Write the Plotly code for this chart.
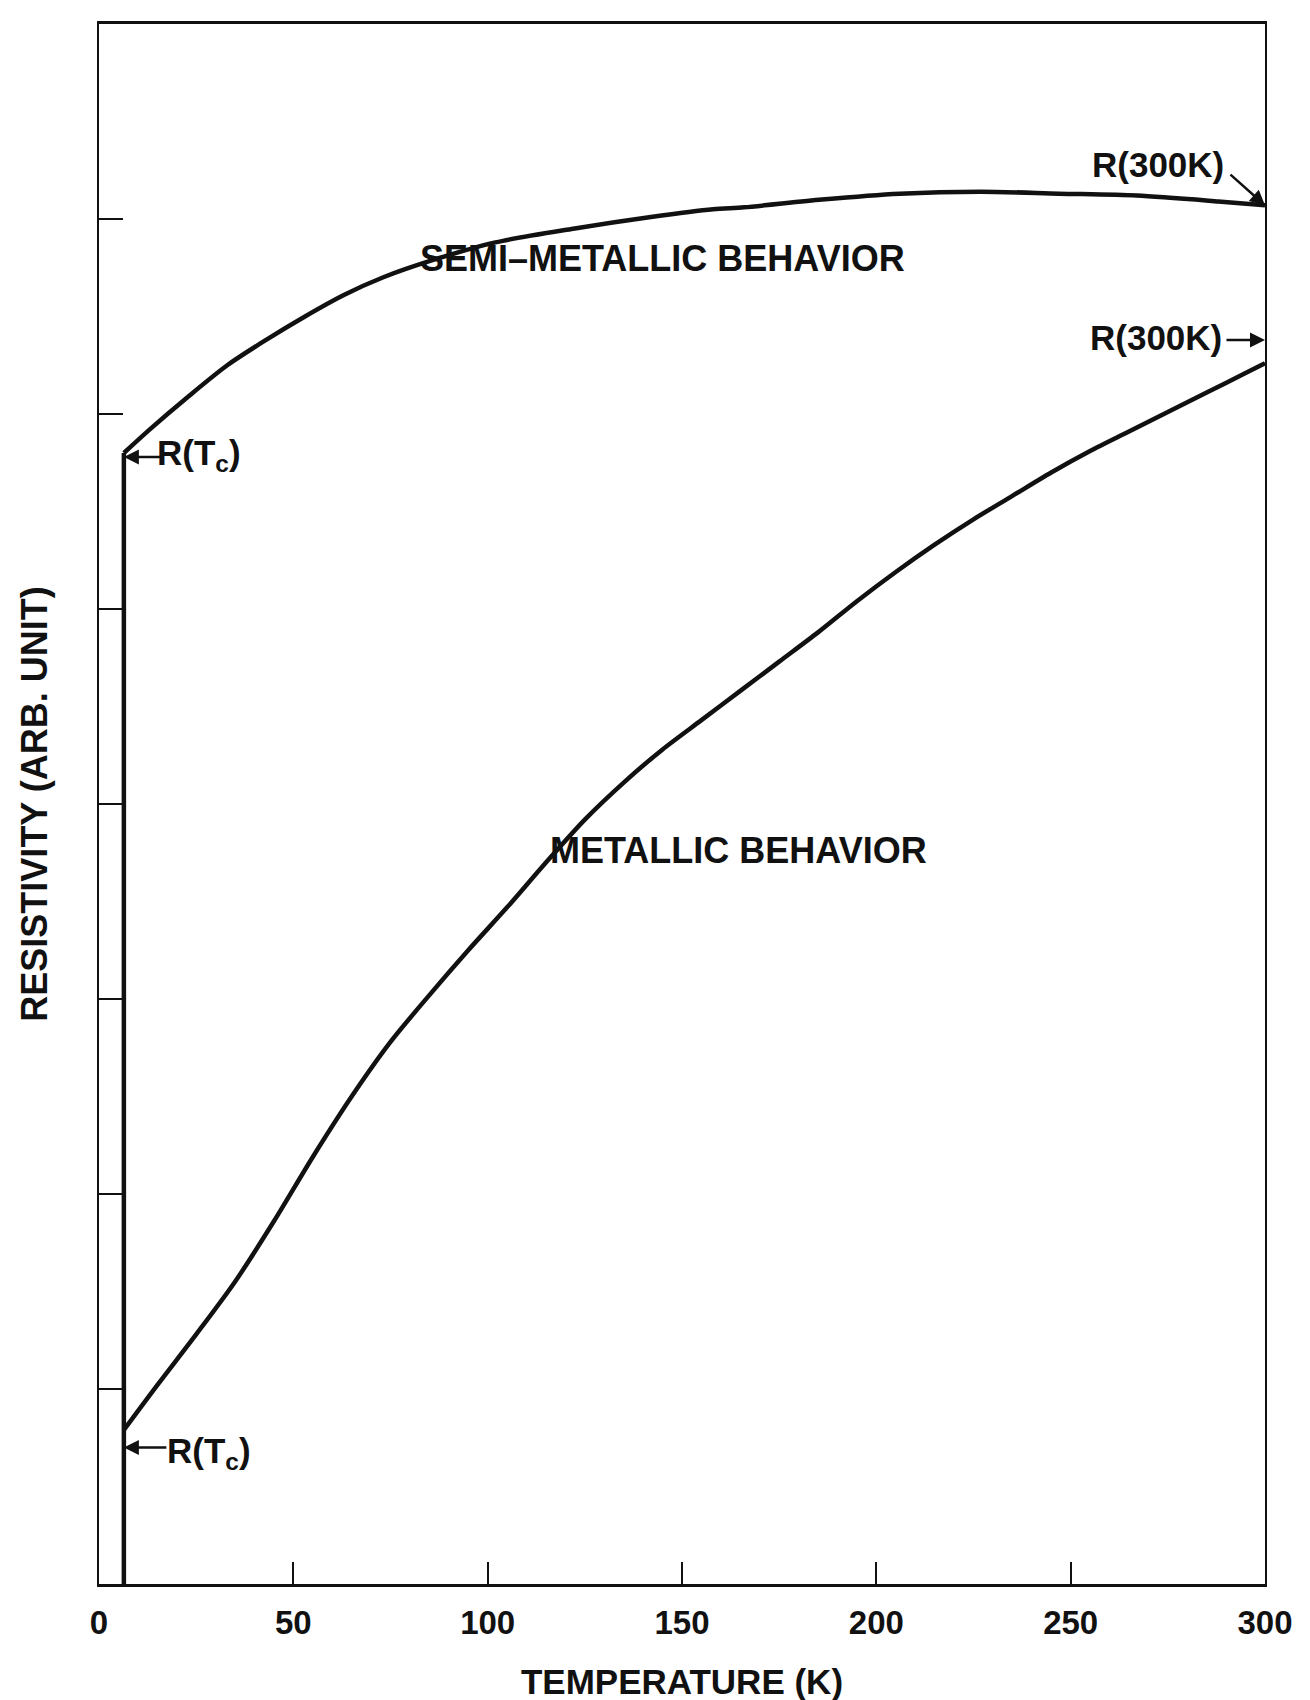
import plotly.graph_objects as go

# ---- data ----
T_c = 6.4  # transition temperature (K)

semi_T = [6.4, 13, 23, 33, 43, 53, 63, 73, 86, 102, 122, 142, 158, 166, 186,
          206, 227, 247, 267, 288, 300]
semi_R = [5.80, 5.92, 6.09, 6.25, 6.38, 6.50, 6.61, 6.70, 6.79, 6.88, 6.95,
          7.01, 7.05, 7.06, 7.10, 7.13, 7.14, 7.13, 7.12, 7.09, 7.07]

metal_T = [6.4, 15, 25, 35, 45, 55, 65, 75, 85, 95, 105, 115, 125, 135, 145,
           155, 165, 175, 185, 195, 205, 215, 225, 235, 245, 255, 265, 275,
           285, 295, 300]
metal_R = [0.79, 1.02, 1.28, 1.55, 1.86, 2.19, 2.50, 2.78, 3.02, 3.25, 3.47,
           3.70, 3.92, 4.11, 4.28, 4.43, 4.58, 4.73, 4.88, 5.04, 5.19, 5.33,
           5.46, 5.58, 5.70, 5.81, 5.91, 6.01, 6.11, 6.21, 6.26]

x_ticks = [0, 50, 100, 150, 200, 250, 300]
y_ticks = [1, 2, 3, 4, 5, 6, 7]

FONT = "Liberation Sans, Arial, sans-serif"
BLACK = "#111111"

fig = go.Figure()

# superconducting drop to zero at Tc
fig.add_trace(go.Scatter(
    x=[T_c, T_c], y=[0, semi_R[0]], mode="lines",
    line=dict(color=BLACK, width=4.5), hoverinfo="skip", showlegend=False))
# normal-state curves
fig.add_trace(go.Scatter(
    x=semi_T, y=semi_R, mode="lines",
    line=dict(color=BLACK, width=4.5, shape="spline", smoothing=0.8),
    hoverinfo="skip", showlegend=False))
fig.add_trace(go.Scatter(
    x=metal_T, y=metal_R, mode="lines",
    line=dict(color=BLACK, width=4.5, shape="spline", smoothing=0.8),
    hoverinfo="skip", showlegend=False))

ann = []

def label(text, x, y, xanchor="left", size=36):
    ann.append(dict(text="<b>%s</b>" % text, x=x, y=y, xref="x", yref="y",
                    xanchor=xanchor, yanchor="middle", showarrow=False,
                    font=dict(family=FONT, size=size, color=BLACK)))

def arrow(x, y, ax, ay):
    ann.append(dict(text="", x=x, y=y, xref="x", yref="y", ax=ax, ay=ay,
                    showarrow=True, arrowhead=2, arrowsize=1.2,
                    arrowwidth=2.5, arrowcolor=BLACK, standoff=0))

label("SEMI–METALLIC BEHAVIOR", 82, 6.80)
label("METALLIC BEHAVIOR", 115.5, 3.76)
label("R(300K)", 290, 7.28, xanchor="right", size=35)
label("R(300K)", 289.5, 6.39, xanchor="right", size=35)
label("R(T<sub>c</sub>)", 14.5, 5.79, size=35)
label("R(T<sub>c</sub>)", 17, 0.67, size=35)

arrow(semi_T[-1], semi_R[-1], -36, -32)
arrow(300, 6.38, -40, 0)
arrow(T_c, semi_R[0] - 0.02, 38, 0)
arrow(T_c, metal_R[0] - 0.09, 44, 0)

fig.update_layout(
    width=1310, height=1700,
    margin=dict(l=91, r=53, t=16, b=120),
    paper_bgcolor="white", plot_bgcolor="white",
    showlegend=False,
    annotations=ann,
    xaxis=dict(
        range=[0, 300], tickvals=x_ticks, ticktext=[str(v) for v in x_ticks],
        ticks="inside", ticklen=22, tickwidth=2, tickcolor=BLACK,
        showline=True, linewidth=2.5, linecolor=BLACK, mirror=True,
        showgrid=False, zeroline=False,
        tickfont=dict(family=FONT, size=33, color=BLACK, weight="bold"),
        ticklabelstandoff=8,
        title=dict(text="<b>TEMPERATURE (K)</b>", standoff=30,
                   font=dict(family=FONT, size=35, color=BLACK)),
        fixedrange=True,
    ),
    yaxis=dict(
        range=[0, 8], tickvals=y_ticks, showticklabels=False,
        ticks="inside", ticklen=24, tickwidth=2, tickcolor=BLACK,
        showline=True, linewidth=2, linecolor=BLACK, mirror=True,
        showgrid=False, zeroline=False,
        title=dict(text="<b>RESISTIVITY (ARB. UNIT)</b>", standoff=38,
                   font=dict(family=FONT, size=36, color=BLACK)),
        fixedrange=True,
    ),
)

fig.write_html("out.html")
